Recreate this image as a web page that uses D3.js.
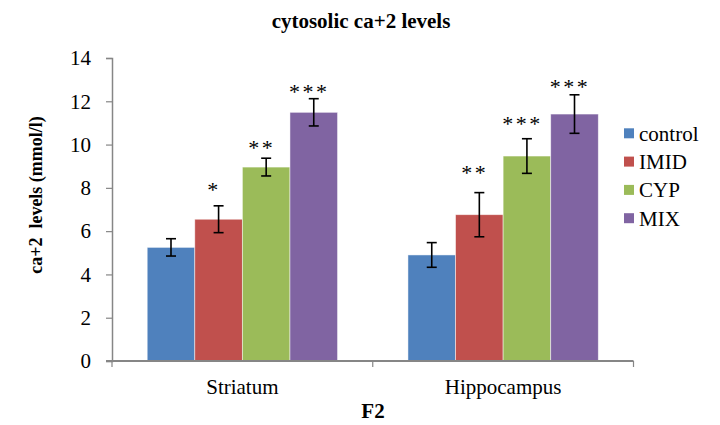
<!DOCTYPE html>
<html><head><meta charset="utf-8">
<script src="https://cdn.jsdelivr.net/npm/d3@7"></script>
<style>html,body{margin:0;padding:0;background:#fff;}svg{display:block;}
svg text{font-family:"Liberation Serif","Times New Roman","DejaVu Serif","Noto Serif",serif;}</style>
</head><body>
<svg id="c" width="720" height="425"></svg>
<script>
const categories = ["Striatum", "Hippocampus"];
const seriesNames = ["control", "IMID", "CYP", "MIX"];
const colors = ["#4F81BD", "#C0504D", "#9BBB59", "#8064A2"];
const control = [5.25, 4.9];
const imid = [6.55, 6.76];
const cyp = [8.96, 9.47];
const mix = [11.49, 11.41];
const controlErr = [0.4, 0.57];
const imidErr = [0.62, 1.02];
const cypErr = [0.41, 0.8];
const mixErr = [0.63, 0.89];
const sigLabels = [["", "*", "**", "***"], ["", "**", "***", "***"]];
const sigLevel = [[0, 8.13, 10.07, 12.65], [0, 8.9, 11.17, 12.9]];
const yTicks = [0, 2, 4, 6, 8, 10, 12, 14];

const values = [control, imid, cyp, mix];
const errs = [controlErr, imidErr, cypErr, mixErr];

const svg = d3.select("#c");
const L = 112, R = 633.5, T = 58, B = 361;

const x0 = d3.scaleBand().domain(categories).range([L, R]).paddingInner(0).paddingOuter(0);
const groupPad = 0.27;
const x1 = d3.scaleBand().domain(seriesNames).range([0, x0.bandwidth() * (1 - groupPad)]).padding(0);
const y = d3.scaleLinear().domain([0, 14]).range([B, T]);

// title
svg.append("text").attr("x", 361).attr("y", 27.5).attr("text-anchor", "middle")
  .style("font-weight", "bold").style("font-size", "21px")
  .text("cytosolic ca+2 levels");

// bars
const g = svg.append("g");
categories.forEach((c, ci) => {
  const gx = x0(c) + x0.bandwidth() * groupPad / 2;
  seriesNames.forEach((s, si) => {
    const v = values[si][ci];
    const bx = gx + x1(s);
    g.append("rect").attr("x", bx).attr("y", y(v)).attr("width", x1.bandwidth())
      .attr("height", y(0) - y(v)).attr("fill", colors[si])
      .attr("stroke", "rgba(255,255,255,0.6)").attr("stroke-width", 0.8);
    const cx = bx + x1.bandwidth() / 2;
    const e = errs[si][ci];
    const eg = g.append("g").attr("stroke", "#000").attr("stroke-width", 1.6);
    eg.append("line").attr("x1", cx).attr("x2", cx).attr("y1", y(v + e)).attr("y2", y(v - e));
    eg.append("line").attr("x1", cx - 5).attr("x2", cx + 5).attr("y1", y(v + e)).attr("y2", y(v + e));
    eg.append("line").attr("x1", cx - 5).attr("x2", cx + 5).attr("y1", y(v - e)).attr("y2", y(v - e));
    const lab = sigLabels[ci][si];
    if (lab) {
      g.append("text").attr("x", cx - 4.5).attr("y", y(sigLevel[ci][si]) + 12)
        .attr("text-anchor", "middle").style("font-size", "22px")
        .style("letter-spacing", "2.5px").attr("fill", "#000").text(lab);
    }
  });
});

// y axis
const yAxis = d3.axisLeft(y).tickValues(yTicks).tickSize(6).tickPadding(15).tickFormat(d3.format("d"));
const ya = svg.append("g").attr("transform", `translate(${L},0)`).call(yAxis);
ya.attr("font-family", null);
ya.select(".domain").attr("stroke", "#868686").attr("stroke-width", 1.5);
ya.selectAll(".tick line").attr("stroke", "#868686").attr("stroke-width", 1.2);
ya.selectAll(".tick text").style("font-size", "21px").attr("fill", "#000");

// x axis
const xa = svg.append("g").attr("transform", `translate(0,${B})`);
xa.append("line").attr("x1", L - 6).attr("x2", R).attr("y1", 0).attr("y2", 0)
  .attr("stroke", "#868686").attr("stroke-width", 2);
[L, x0(categories[1]), R].forEach(t => {
  xa.append("line").attr("x1", t).attr("x2", t).attr("y1", 0).attr("y2", 6)
    .attr("stroke", "#868686").attr("stroke-width", 1.2);
});
categories.forEach(c => {
  xa.append("text").attr("x", x0(c) + x0.bandwidth() / 2).attr("y", 32.5)
    .attr("text-anchor", "middle").style("font-size", "21px").text(c);
});

// axis titles
svg.append("text").attr("x", 373).attr("y", 418).attr("text-anchor", "middle")
  .style("font-weight", "bold").style("font-size", "21px").text("F2");
svg.append("text").attr("transform", "translate(42,195) rotate(-90)").attr("text-anchor", "middle")
  .style("font-weight", "bold").style("font-size", "18px")
  .style("white-space", "pre").text("ca+2  levels (mmol/l)");

// legend
const lg = svg.append("g");
seriesNames.forEach((s, i) => {
  const cy = 133.3 + i * 28.3;
  lg.append("rect").attr("x", 624).attr("y", cy - 5).attr("width", 10).attr("height", 10).attr("fill", colors[i]);
  lg.append("text").attr("x", 639).attr("y", cy + 7.5).style("font-size", "21px").text(s);
});
</script>
</body></html>
